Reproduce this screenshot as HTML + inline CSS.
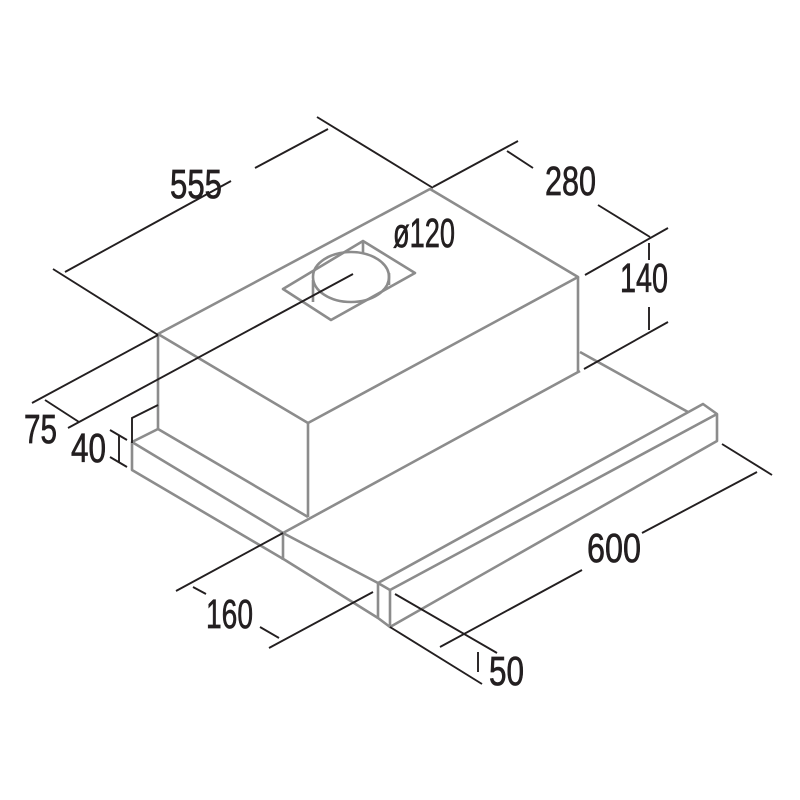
<!DOCTYPE html>
<html><head><meta charset="utf-8"><style>
html,body{margin:0;padding:0;background:#fff;}
svg{display:block;}
text{font-family:"Liberation Sans",sans-serif;font-size:41px;fill:#231f20;stroke:#231f20;stroke-width:0.7;}
</style></head><body>
<svg width="800" height="800" viewBox="0 0 800 800" xmlns="http://www.w3.org/2000/svg">
<g fill="none" stroke="#8c8c8c" stroke-width="2.6" stroke-linejoin="round">
<polygon points="158,334 430,189 578,277 308,423"/>
<line x1="158" y1="334" x2="158" y2="429"/>
<line x1="308" y1="423" x2="308" y2="517"/>
<line x1="578" y1="277" x2="578" y2="372"/>
<line x1="158" y1="429" x2="308" y2="517"/>
<polygon points="363,241 415,273 331,320 283,289"/>
<ellipse cx="351" cy="277" rx="38" ry="25"/>
<line x1="363" y1="241" x2="363" y2="253"/>
<line x1="313" y1="280" x2="313" y2="302"/>
<line x1="389" y1="273" x2="389" y2="285"/>
<polyline points="158,429 132,442 132,470 285,560 378,618"/>
<line x1="132" y1="442" x2="283" y2="533"/>
<line x1="283" y1="533" x2="378" y2="583"/>
<line x1="283" y1="533" x2="283" y2="560"/>
<line x1="283" y1="533" x2="580" y2="371"/>
<line x1="580" y1="352" x2="688" y2="412"/>
<polyline points="378,583 703,404 717,414 717,441 390,627 378,618 378,583 390,590 717,414"/>
<line x1="390" y1="590" x2="390" y2="627"/>
</g>
<g fill="none" stroke="#231f20" stroke-width="1.9">
<line x1="53" y1="269" x2="158" y2="335"/>
<line x1="317" y1="117" x2="433" y2="188"/>
<line x1="65" y1="272" x2="231" y2="181"/>
<line x1="255" y1="168" x2="328" y2="129"/>
<line x1="433" y1="187" x2="518" y2="141"/>
<line x1="585" y1="275" x2="668" y2="228"/>
<line x1="507" y1="151" x2="533" y2="168"/>
<line x1="598" y1="205" x2="650" y2="237"/>
<line x1="649" y1="243" x2="649" y2="260"/>
<line x1="649" y1="307" x2="649" y2="330"/>
<line x1="584" y1="369" x2="668" y2="322"/>
<line x1="158" y1="335" x2="32" y2="403"/>
<line x1="353" y1="274" x2="68" y2="428"/>
<line x1="45" y1="400" x2="79" y2="422"/>
<polyline points="158,405 132,418 132,443"/>
<line x1="110" y1="430" x2="127" y2="440"/>
<line x1="110" y1="457" x2="127" y2="467"/>
<line x1="119" y1="436" x2="119" y2="462"/>
<line x1="283" y1="533" x2="176" y2="591"/>
<line x1="193" y1="587" x2="206" y2="594"/>
<line x1="260" y1="627" x2="279" y2="638"/>
<line x1="373" y1="592" x2="269" y2="648"/>
<line x1="395" y1="594" x2="497" y2="653"/>
<line x1="390" y1="627" x2="482" y2="684"/>
<line x1="478" y1="652" x2="478" y2="672"/>
<line x1="722" y1="444" x2="772" y2="475"/>
<line x1="757" y1="472" x2="642" y2="533"/>
<line x1="582" y1="570" x2="440" y2="647"/>
</g>
<text x="170" y="198" textLength="52" lengthAdjust="spacingAndGlyphs">555</text>
<text x="545" y="195" textLength="51" lengthAdjust="spacingAndGlyphs">280</text>
<text x="620" y="292" textLength="48" lengthAdjust="spacingAndGlyphs">140</text>
<text x="393" y="247" textLength="62" lengthAdjust="spacingAndGlyphs">ø120</text>
<text x="24" y="443" textLength="33" lengthAdjust="spacingAndGlyphs">75</text>
<text x="71" y="462" textLength="35" lengthAdjust="spacingAndGlyphs">40</text>
<text x="206" y="628" textLength="47" lengthAdjust="spacingAndGlyphs">160</text>
<text x="587" y="562" textLength="54" lengthAdjust="spacingAndGlyphs">600</text>
<text x="489" y="685" textLength="35" lengthAdjust="spacingAndGlyphs">50</text>
</svg>
</body></html>
